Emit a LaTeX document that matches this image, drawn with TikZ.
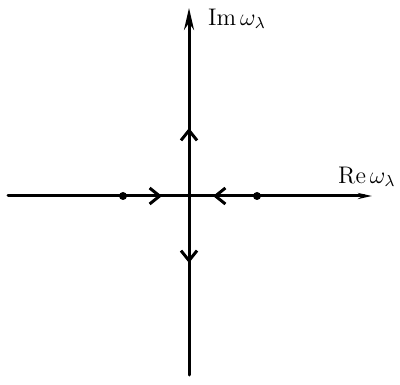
\documentclass[tikz,border=0pt]{standalone}
\usetikzlibrary{arrows.meta}
\tikzset{every picture/.style={line width=1.5pt}}
\tikzset{flow/.style={-{Straight Barb[length=5pt,width=8pt,line width=1.5pt]}}}
\begin{document}
\begin{tikzpicture}[x=0.5pt, y=-0.5pt, font=\large, line join=round, line cap=round, >=stealth]
	\useasboundingbox (0,0) rectangle (400,384);
	\path
	(189,375) coordinate (S)
	(189,8) coordinate (N)
	(8,196) coordinate (W)
	(372,196) coordinate (E)
	(189,196) coordinate (O)
	(123,196) coordinate (P)
	(257,196) coordinate (Q)
	(162,196) coordinate (a)
	(213,196) coordinate (b)
	(189,128) coordinate (c)
	(189,263) coordinate (d);
	\draw[-{Stealth[length=11pt,width=5pt]}] (S)--(N);
	\draw[-{Stealth[length=7pt,width=3pt]}] (W)--(E);
	\draw[flow] (P)--(a);
	\draw[flow] (Q)--(b);
	\draw[flow] (O)--(c);
	\draw[flow] (O)--(d);
	\foreach \x in {P,Q}\fill (\x) circle (4);
	\node[anchor=west] (im) at (200,19) {$\mathrm{Im}\,\omega_\lambda$};
	\node[anchor=east, inner sep=1pt] (re) at (399,177) {$\mathrm{Re}\,\omega_\lambda$};
\end{tikzpicture}
\end{document}
